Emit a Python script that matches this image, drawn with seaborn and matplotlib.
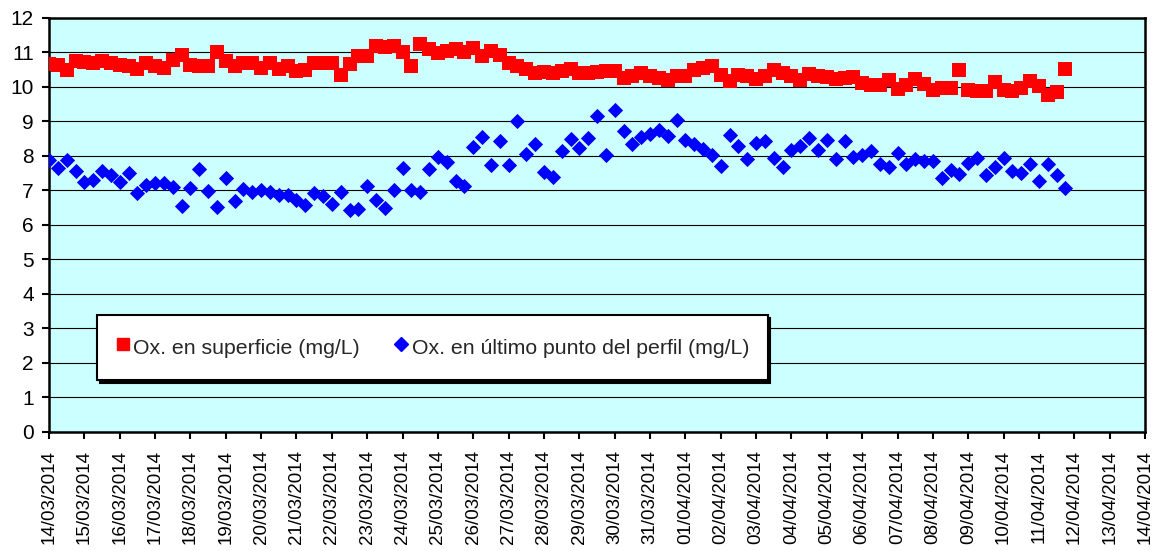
import pandas as pd
import matplotlib.pyplot as plt
import matplotlib.dates as mdates
from matplotlib.lines import Line2D
import seaborn as sns

sns.set_style('ticks')
plt.rcParams['font.family'] = ['Liberation Sans', 'DejaVu Sans']

# muestreo cada 6 horas desde el 14/03/2014
inicio = '2014-03-14'
paso = '6h'

ox_superficie = [
    10.66, 10.64, 10.50, 10.74, 10.71, 10.69, 10.74, 10.69, 10.64, 10.60,
    10.52, 10.69, 10.60, 10.55, 10.79, 10.94, 10.64, 10.62, 10.62, 11.00,
    10.74, 10.60, 10.69, 10.69, 10.55, 10.69, 10.52, 10.60, 10.45,
    10.50, 10.69, 10.69, 10.69, 10.35, 10.67, 10.89, 10.89, 11.18, 11.15,
    11.18, 11.01, 10.60, 11.25, 11.10, 10.98, 11.03, 11.11, 11.01, 11.13,
    10.89, 11.03, 10.94, 10.69, 10.60, 10.53, 10.40, 10.42, 10.40, 10.45,
    10.52, 10.40,
    10.40, 10.42, 10.47, 10.45, 10.26, 10.33, 10.40, 10.33, 10.26, 10.21,
    10.31, 10.33, 10.50, 10.55, 10.60, 10.35, 10.16, 10.35, 10.31, 10.23,
    10.31, 10.48, 10.40, 10.31, 10.21, 10.38, 10.33, 10.29, 10.23, 10.26,
    10.29,
    10.11, 10.06, 10.06, 10.21, 9.94, 10.06, 10.23, 10.09, 9.90, 9.97,
    9.97, 10.48, 9.92, 9.87, 9.87, 10.13, 9.92, 9.87, 9.97, 10.16,
    10.03, 9.77, 9.84, 10.52,
]

ox_ultimo_punto = [
    7.89, 7.64, 7.89, 7.55, 7.26, 7.31, 7.55, 7.45, 7.26, 7.52,
    6.94, 7.16, 7.21, 7.23, 7.11, 6.56, 7.08, 7.61, 6.99, 6.53,
    7.37, 6.70, 7.03, 6.97, 7.01, 6.97, 6.87, 6.87, 6.72,
    6.58, 6.92, 6.84, 6.61, 6.95, 6.43, 6.46, 7.14, 6.72, 6.48,
    7.01, 7.64, 7.01, 6.97, 7.61, 7.98, 7.82, 7.28, 7.14, 8.25,
    8.56, 7.74, 8.42, 7.74, 9.00, 8.06, 8.34, 7.53, 7.40, 8.13,
    8.49, 8.22,
    8.53, 9.16, 8.03, 9.32, 8.71, 8.35, 8.54, 8.64, 8.76, 8.58,
    9.05, 8.47, 8.35, 8.20, 8.03, 7.72, 8.61, 8.30, 7.91, 8.39,
    8.44, 7.93, 7.69, 8.16, 8.29, 8.51, 8.16, 8.45, 7.91, 8.42,
    7.98,
    8.03, 8.13, 7.76, 7.69, 8.08, 7.77, 7.91, 7.84, 7.84, 7.35,
    7.58, 7.48, 7.79, 7.93, 7.45, 7.69, 7.93, 7.56, 7.50, 7.77,
    7.28, 7.76, 7.45, 7.06,
]

etiqueta_sup = 'Ox. en superficie (mg/L)'
etiqueta_fondo = 'Ox. en último punto del perfil (mg/L)'

fechas = pd.date_range(inicio, periods=len(ox_superficie), freq=paso)
df = pd.DataFrame({'fecha': fechas, 'sup': ox_superficie, 'fondo': ox_ultimo_punto})

fig = plt.figure(figsize=(11.53, 5.51), dpi=100)
ax = fig.add_axes([0.0425, 0.216, 0.9506, 0.7514])
ax.set_facecolor('#CCFFFF')

sns.scatterplot(data=df, x='fecha', y='sup', marker='s', s=110, color='#FF0000',
                linewidth=0, ax=ax, zorder=3)
sns.scatterplot(data=df, x='fecha', y='fondo', marker='D', s=60, color='#0000FF',
                linewidth=0, ax=ax, zorder=4)

ax.set_xlim(pd.Timestamp('2014-03-14'), pd.Timestamp('2014-04-14'))
ax.set_ylim(0, 12)
ax.set_yticks(range(0, 13))
ax.xaxis.set_major_locator(mdates.DayLocator())
ax.xaxis.set_major_formatter(mdates.DateFormatter('%d/%m/%Y'))
ax.set_xlabel('')
ax.set_ylabel('')

ax.grid(axis='y', color='black', linewidth=0.8)
ax.set_axisbelow(True)
for lado in ['left', 'right', 'top', 'bottom']:
    ax.spines[lado].set_color('black')
    ax.spines[lado].set_linewidth(1.8)

ax.tick_params(axis='y', direction='out', length=5, width=1.5, pad=6,
               labelsize=15, colors='black')
ax.tick_params(axis='x', direction='out', length=5, width=1.5, pad=8,
               labelsize=13.5, colors='black', labelrotation=90)

handles = [
    Line2D([], [], marker='s', linestyle='none', color='#FF0000', markersize=9),
    Line2D([], [], marker='D', linestyle='none', color='#0000FF', markersize=7.5),
]
ax.legend(handles, [etiqueta_sup, etiqueta_fondo], ncol=2, loc='upper left',
          bbox_to_anchor=(0.0438, 0.2826), borderaxespad=0, fontsize=15.3,
          frameon=True, fancybox=False, edgecolor='black', framealpha=1,
          shadow={'color': 'black', 'alpha': 1}, borderpad=0.85,
          handleheight=1.7, handlelength=0.7, handletextpad=0.15,
          columnspacing=1.6)
ax.get_legend().get_frame().set_linewidth(1.5)

fig.savefig('out.png', dpi=100)
